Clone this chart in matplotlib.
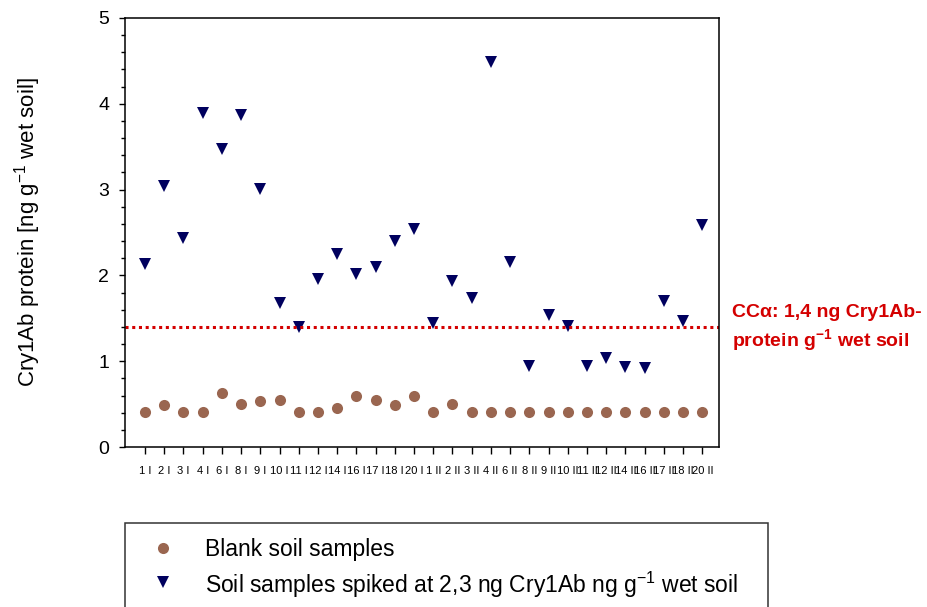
import numpy as np
import matplotlib.pyplot as plt
from matplotlib.patches import Rectangle
from matplotlib.lines import Line2D
from matplotlib.ticker import MultipleLocator

plt.rcParams['font.family'] = ['Liberation Sans', 'DejaVu Sans']
plt.rcParams['mathtext.fontset'] = 'custom'
plt.rcParams['mathtext.rm'] = 'Liberation Sans'
plt.rcParams['mathtext.bf'] = 'Liberation Sans:bold'

## data
labels = ['1 I', '2 I', '3 I', '4 I', '6 I', '8 I', '9 I', '10 I', '11 I', '12 I',
          '14 I', '16 I', '17 I', '18 I', '20 I',
          '1 II', '2 II', '3 II', '4 II', '6 II', '8 II', '9 II', '10 II', '11 II', '12 II',
          '14 II', '16 II', '17 II', '18 II', '20 II']
blank = [0.41, 0.49, 0.41, 0.41, 0.63, 0.50, 0.54, 0.55, 0.41, 0.41,
         0.45, 0.60, 0.55, 0.49, 0.60, 0.41, 0.50, 0.41, 0.41, 0.41,
         0.41, 0.41, 0.41, 0.41, 0.41, 0.41, 0.41, 0.41, 0.41, 0.41]
spiked = [2.13, 3.04, 2.44, 3.89, 3.47, 3.87, 3.01, 1.68, 1.40, 1.96,
          2.25, 2.02, 2.10, 2.40, 2.54, 1.45, 1.93, 1.74, 4.49, 2.16,
          0.94, 1.54, 1.41, 0.94, 1.04, 0.93, 0.92, 1.70, 1.47, 2.59]
cc_alpha = 1.4
leg_labels = ['Blank soil samples', 'Soil samples spiked at 2,3 ng Cry1Ab ng g$^{-1}$ wet soil']

brown = '#9a6650'
navy = '#00005e'
red = '#d40000'

W, H = 928, 607
x = np.arange(1, len(labels) + 1)

fig = plt.figure(figsize=(W/100, H/100), dpi=100)
ax = fig.add_axes([125/W, 1-447/H, (719-125)/W, (447-18)/H])

ax.plot(x, blank, 'o', color=brown, markersize=8, markeredgewidth=0)
ax.plot(x, spiked, 'v', color=navy, markersize=8.5, markeredgewidth=0)
ax.axhline(cc_alpha, color=red, linestyle=(0, (1, 1.2)), linewidth=2.2)

ax.set_xlim(-0.04, 30.87)
ax.set_ylim(0, 5)
ax.set_xticks(x)
ax.set_xticklabels(labels, fontsize=8)
ax.yaxis.set_major_locator(MultipleLocator(1))
ax.yaxis.set_minor_locator(MultipleLocator(0.2))
ax.tick_params(axis='y', which='major', labelsize=14, length=4.5, width=1, pad=7)
ax.tick_params(axis='y', which='minor', length=3, width=1)
ax.tick_params(axis='x', length=5, width=1, pad=9)
ax.set_ylabel('Cry1Ab protein [ng g$^{-1}$ wet soil]', fontsize=16)
ax.yaxis.set_label_coords((43-125)/(719-125), 0.5)
for s in ax.spines.values():
    s.set_linewidth(1.1)

# CC alpha annotation
fig.text(732/W, 1-317/H, 'CC\u03b1: 1,4 ng Cry1Ab-', color=red, fontsize=14,
         fontweight='bold', va='baseline', ha='left')
fig.text(732/W, 1-347/H, 'protein g$^{\\mathbf{-1}}$ wet soil', color=red, fontsize=14,
         fontweight='bold', va='baseline', ha='left')

# legend box (runs off the bottom of the figure)
fig.patches.append(Rectangle((125/W, -0.05), (768-125)/W, 0.05 + (H-523)/H,
                             transform=fig.transFigure, fill=False,
                             edgecolor='#333333', linewidth=1.1))
fig.add_artist(Line2D([163/W], [1-548/H], transform=fig.transFigure, marker='o',
                      color=brown, markersize=8, markeredgewidth=0, linestyle='none'))
fig.add_artist(Line2D([163/W], [1-582/H], transform=fig.transFigure, marker='v',
                      color=navy, markersize=8.5, markeredgewidth=0, linestyle='none'))
fig.text(205/W, 1-556/H, leg_labels[0], fontsize=16.5, va='baseline')
fig.text(205/W, 1-593/H, leg_labels[1], fontsize=16.5, va='baseline')

plt.savefig('out.png', dpi=100)
